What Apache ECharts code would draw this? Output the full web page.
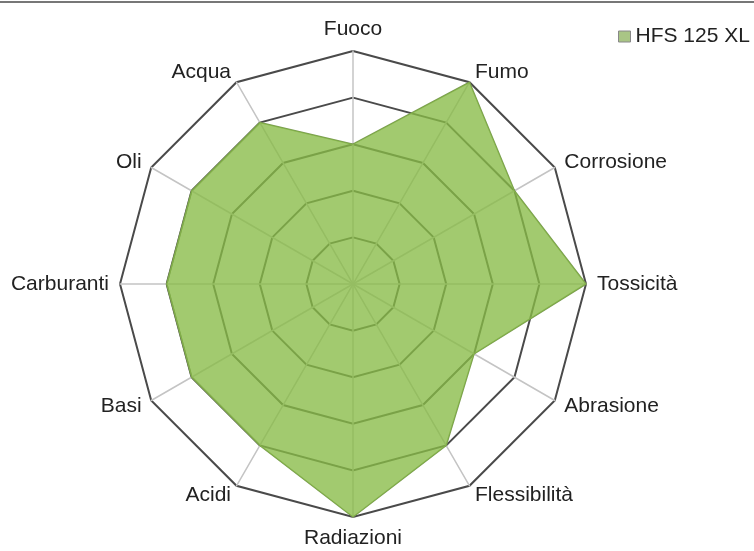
<!DOCTYPE html>
<html>
<head>
<meta charset="utf-8">
<script src="https://cdn.jsdelivr.net/npm/echarts@6/dist/echarts.min.js"></script>
<style>
  html, body { margin: 0; padding: 0; background: #fff; }
  #chart { width: 754px; height: 551px; }
</style>
</head>
<body>
<div id="chart"></div>
<script>
// assi in senso orario partendo dall'alto
var categories = ['Fuoco', 'Fumo', 'Corrosione', 'Tossicità', 'Abrasione', 'Flessibilità',
                  'Radiazioni', 'Acidi', 'Basi', 'Carburanti', 'Oli', 'Acqua']
var hfsValues = [3, 5, 4, 5, 3, 4, 5, 4, 4, 4, 4, 4]
var seriesName = 'HFS 125 XL'
var maxValue = 5

// echarts disegna gli indicatori in senso antiorario: inverto tutto tranne il primo
function toCounterClockwise(arr) {
  return [arr[0]].concat(arr.slice(1).reverse())
}

var myChart = echarts.init(document.getElementById('chart'))

var option = {
  animation: false,
  textStyle: { fontFamily: 'Liberation Sans, Arial, sans-serif' },
  graphic: [{
    type: 'line',
    shape: { x1: 0, y1: 2, x2: 754, y2: 2 },
    style: { stroke: '#777', lineWidth: 2 }
  }],
  legend: {
    data: [seriesName],
    left: 613,
    top: 21,
    icon: 'rect',
    itemWidth: 12,
    itemHeight: 11,
    itemGap: 4,
    textStyle: { fontSize: 21, color: '#222' },
    itemStyle: { color: '#a9c585', borderColor: '#888', borderWidth: 1 }
  },
  radar: {
    center: [353, 284],
    radius: 233,
    startAngle: 90,
    shape: 'polygon',
    splitNumber: 5,
    indicator: toCounterClockwise(categories).map(function (c) {
      return { name: c, min: 0, max: maxValue }
    }),
    nameGap: 11,
    axisName: { color: '#222', fontSize: 21 },
    splitArea: { show: false },
    splitLine: { lineStyle: { color: '#4a4a4a', width: 2 } },
    axisLine: { lineStyle: { color: '#c4c4c4', width: 1.5 } }
  },
  series: [{
    type: 'radar',
    name: seriesName,
    symbol: 'none',
    lineStyle: { color: '#7a9c50', width: 1.5 },
    areaStyle: { color: '#88bb46', opacity: 0.78 },
    data: [{ value: toCounterClockwise(hfsValues), name: seriesName }]
  }]
}

myChart.setOption(option)
window.addEventListener('resize', () => { myChart.resize() })
</script>
</body>
</html>
